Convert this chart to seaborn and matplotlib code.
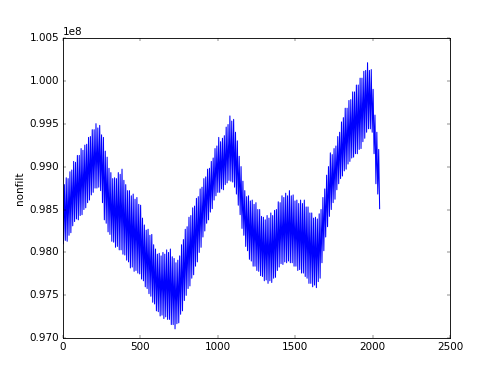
import numpy as np
import pandas as pd
import matplotlib
matplotlib.use("Agg")
import matplotlib.pyplot as plt
import seaborn as sns

# upper ends of the oscillation (units of 1e8), one every 12 samples from 0
peaks = [
    0.9878, 0.9879, 0.9887, 0.9886, 0.9894, 0.9896, 0.9906, 0.9905, 0.9913, 0.9913,
    0.9921, 0.9919, 0.9925, 0.9926, 0.9934, 0.9935, 0.9943, 0.9943, 0.9950, 0.9945,
    0.9948, 0.9937, 0.9934, 0.9918, 0.9911, 0.9898, 0.9893, 0.9886, 0.9887, 0.9886,
    0.9893, 0.9891, 0.9897, 0.9884, 0.9879, 0.9872, 0.9872, 0.9866, 0.9868, 0.9862,
    0.9864, 0.9856, 0.9855, 0.9840, 0.9832, 0.9826, 0.9827, 0.9820, 0.9821, 0.9809,
    0.9804, 0.9798, 0.9799, 0.9796, 0.9800, 0.9798, 0.9803, 0.9800, 0.9804, 0.9795,
    0.9793, 0.9788, 0.9791, 0.9796, 0.9809, 0.9815, 0.9827, 0.9830, 0.9841, 0.9843,
    0.9852, 0.9854, 0.9863, 0.9865, 0.9874, 0.9876, 0.9886, 0.9888, 0.9897, 0.9898,
    0.9906, 0.9910, 0.9921, 0.9924, 0.9934, 0.9929, 0.9933, 0.9936, 0.9946, 0.9949,
    0.9959, 0.9953, 0.9955, 0.9940, 0.9930, 0.9912, 0.9900, 0.9883, 0.9872, 0.9865,
    0.9866, 0.9860, 0.9861, 0.9856, 0.9858, 0.9850, 0.9850, 0.9842, 0.9841, 0.9838,
    0.9843, 0.9840, 0.9846, 0.9843, 0.9849, 0.9850, 0.9859, 0.9858, 0.9866, 0.9864,
    0.9869, 0.9866, 0.9872, 0.9866, 0.9867, 0.9860, 0.9861, 0.9857, 0.9861, 0.9857,
    0.9861, 0.9853, 0.9853, 0.9846, 0.9846, 0.9840, 0.9841, 0.9839, 0.9845, 0.9850,
    0.9864, 0.9874, 0.9890, 0.9900, 0.9916, 0.9914, 0.9921, 0.9924, 0.9935, 0.9940,
    0.9952, 0.9957, 0.9968, 0.9968, 0.9977, 0.9978, 0.9987, 0.9987, 0.9995, 0.9995,
    1.0003, 1.0003, 1.0011, 1.0012, 1.0021, 1.0012, 1.0013, 0.9990, 0.9960, 0.9940,
    0.9920,
]

# lower ends, one every 12 samples from 6
troughs = [
    0.9810, 0.9814, 0.9813, 0.9820, 0.9823, 0.9831, 0.9836, 0.9839, 0.9838, 0.9843,
    0.9844, 0.9850, 0.9852, 0.9858, 0.9861, 0.9867, 0.9870, 0.9875, 0.9875, 0.9876,
    0.9872, 0.9858, 0.9838, 0.9834, 0.9824, 0.9821, 0.9813, 0.9812, 0.9806, 0.9807,
    0.9803, 0.9803, 0.9798, 0.9797, 0.9791, 0.9789, 0.9782, 0.9783, 0.9778, 0.9779,
    0.9776, 0.9775, 0.9769, 0.9767, 0.9760, 0.9758, 0.9752, 0.9749, 0.9742, 0.9740,
    0.9732, 0.9731, 0.9726, 0.9727, 0.9723, 0.9725, 0.9722, 0.9722, 0.9716, 0.9716,
    0.9711, 0.9717, 0.9718, 0.9728, 0.9732, 0.9744, 0.9750, 0.9758, 0.9761, 0.9770,
    0.9774, 0.9784, 0.9789, 0.9800, 0.9806, 0.9818, 0.9825, 0.9834, 0.9838, 0.9847,
    0.9851, 0.9861, 0.9866, 0.9870, 0.9870, 0.9874, 0.9873, 0.9879, 0.9881, 0.9884,
    0.9883, 0.9882, 0.9876, 0.9868, 0.9855, 0.9844, 0.9828, 0.9820, 0.9807, 0.9802,
    0.9792, 0.9790, 0.9784, 0.9784, 0.9779, 0.9778, 0.9773, 0.9772, 0.9767, 0.9768,
    0.9764, 0.9767, 0.9765, 0.9770, 0.9771, 0.9779, 0.9783, 0.9787, 0.9786, 0.9789,
    0.9788, 0.9790, 0.9788, 0.9788, 0.9784, 0.9784, 0.9779, 0.9780, 0.9776, 0.9776,
    0.9772, 0.9770, 0.9764, 0.9764, 0.9760, 0.9762, 0.9759, 0.9766, 0.9770, 0.9788,
    0.9802, 0.9818, 0.9830, 0.9842, 0.9850, 0.9858, 0.9862, 0.9873, 0.9880, 0.9886,
    0.9889, 0.9895, 0.9897, 0.9903, 0.9906, 0.9910, 0.9911, 0.9915, 0.9915, 0.9920,
    0.9921, 0.9929, 0.9933, 0.9940, 0.9944, 0.9944, 0.9940, 0.9915, 0.9880, 0.9868,
    0.9851,
]

peak_x = np.arange(len(peaks)) * 12
trough_x = np.arange(len(troughs)) * 12 + 6

df = pd.DataFrame({
    "sample": np.concatenate([peak_x, trough_x]),
    "nonfilt": np.concatenate([peaks, troughs]) * 1e8,
}).sort_values("sample")

plt.style.use("classic")
plt.rcParams["figure.facecolor"] = "white"

fig, ax = plt.subplots(figsize=(8, 6.048), dpi=62.5)
sns.lineplot(data=df, x="sample", y="nonfilt", color="b", linewidth=1.2,
             sort=True, estimator=None, ax=ax)

ax.set_xlim(0, 2500)
ax.set_ylim(0.970e8, 1.005e8)
ax.set_xticks(np.arange(0, 2501, 500))
ax.set_yticks(np.arange(0.970e8, 1.0051e8, 0.005e8))
ax.ticklabel_format(axis="y", style="sci", scilimits=(0, 0), useOffset=False)
ax.set_xlabel("")
ax.set_ylabel("nonfilt")

fig.subplots_adjust(left=0.125, right=0.9, bottom=0.105, top=0.9)
fig.savefig("out.png", dpi=62.5, facecolor="white")
